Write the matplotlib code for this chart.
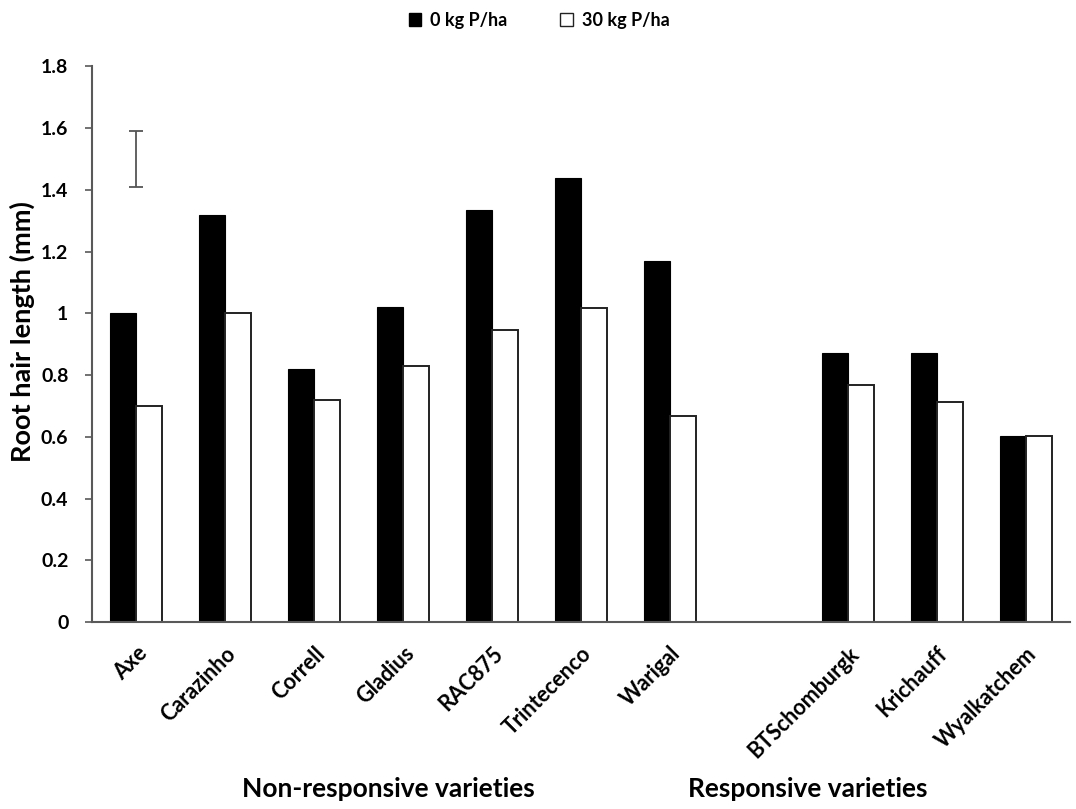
import matplotlib
matplotlib.use("Agg")
import matplotlib.pyplot as plt
from matplotlib.patches import Patch

plt.rcParams['font.family'] = ['Lato', 'DejaVu Sans']

# Wheat varieties (an empty slot separates the two groups)
non_responsive = ["Axe", "Carazinho", "Correll", "Gladius", "RAC875", "Trintecenco", "Warigal"]
responsive = ["BTSchomburgk", "Krichauff", "Wyalkatchem"]

# Root hair length (mm)
p0_non = [1.00, 1.32, 0.82, 1.02, 1.335, 1.437, 1.17]
p30_non = [0.70, 1.00, 0.72, 0.83, 0.947, 1.017, 0.668]
p0_resp = [0.872, 0.872, 0.603]
p30_resp = [0.768, 0.713, 0.603]

# Common error bar (LSD) shown above the first variety
lsd_center = 1.50
lsd_half = 0.09

series_labels = ["0 kg P/ha", "30 kg P/ha"]
y_ticks = [0, 0.2, 0.4, 0.6, 0.8, 1.0, 1.2, 1.4, 1.6, 1.8]
y_tick_labels = ["0", "0.2", "0.4", "0.6", "0.8", "1", "1.2", "1.4", "1.6", "1.8"]
group_titles = ["Non-responsive varieties", "Responsive varieties"]

x_non = list(range(len(non_responsive)))
x_resp = [len(non_responsive) + 1 + i for i in range(len(responsive))]
x_all = x_non + x_resp
names = non_responsive + responsive
p0 = p0_non + p0_resp
p30 = p30_non + p30_resp

fig = plt.figure(figsize=(10.76, 8.09), dpi=100)
ax = fig.add_axes([0.0855, 0.231, 0.909, 0.687])

w = 0.292
axis_grey = "#595959"
ax.bar([x - w / 2 for x in x_all], p0, width=w, color="black", edgecolor="black", linewidth=0.8, zorder=2)
ax.bar([x + w / 2 for x in x_all], p30, width=w, color="white", edgecolor="#222222", linewidth=1.4, zorder=2)

ax.errorbar([x_non[0]], [lsd_center], yerr=[lsd_half], fmt="none", ecolor="#555555",
            elinewidth=1.3, capsize=5, capthick=1.3, zorder=3)

ax.set_xlim(-0.5, len(x_all) + 0.5)
ax.set_ylim(0, 1.8)
ax.set_yticks(y_ticks)
ax.set_yticklabels(y_tick_labels, fontsize=14, fontweight="bold")
ax.set_xticks(x_all)
ax.set_xticklabels(names, rotation=45, ha="right", rotation_mode="anchor",
                   fontsize=15.5, fontweight="bold")
ax.tick_params(axis="x", length=0, pad=15)
ax.tick_params(axis="y", length=5, width=1.2, color=axis_grey, pad=12, direction="out")

for side in ("top", "right"):
    ax.spines[side].set_visible(False)
for side in ("left", "bottom"):
    ax.spines[side].set_color(axis_grey)
    ax.spines[side].set_linewidth(1.5)

fig.text(0.0205, 0.59, "Root hair length (mm)", rotation=90, ha="center", va="center",
         fontsize=19.5, fontweight="bold")

handles = [Patch(facecolor="black", edgecolor="black"),
           Patch(facecolor="white", edgecolor="#222222", linewidth=1.0)]
fig.legend(handles, series_labels, loc="center", bbox_to_anchor=(0.501, 0.975), ncol=2,
           frameon=False, prop={"weight": "bold", "size": 13}, handlelength=0.7,
           handleheight=0.7, handletextpad=0.5, columnspacing=2.9)

fig.text(0.3606, 0.025, group_titles[0], ha="center", va="center", fontsize=19, fontweight="bold")
fig.text(0.751, 0.025, group_titles[1], ha="center", va="center", fontsize=19, fontweight="bold")

fig.savefig("out.png", dpi=100, facecolor="white")
